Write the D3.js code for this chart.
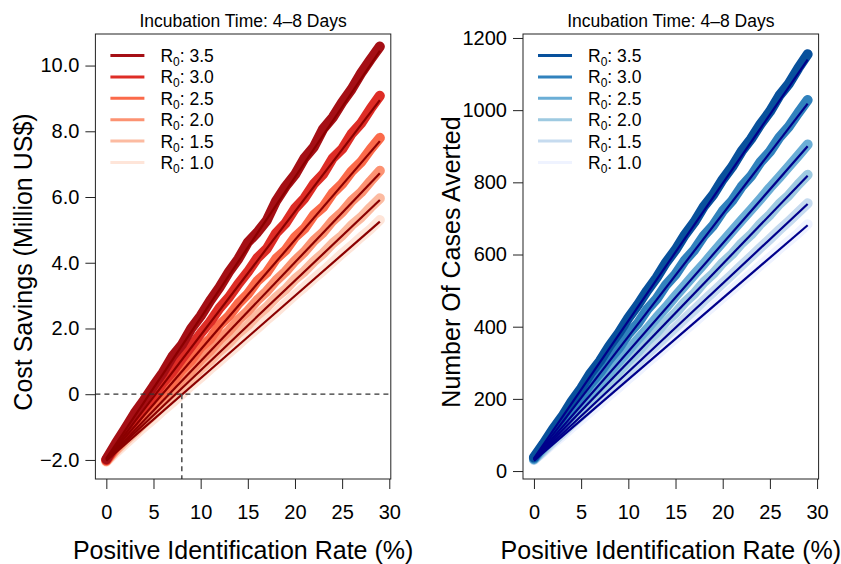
<!DOCTYPE html>
<html>
<head>
<meta charset="utf-8">
<script src="https://cdn.jsdelivr.net/npm/d3@7"></script>
<style>
  body { margin: 0; background: #fff; }
  svg text { font-family: "Liberation Sans", Arial, sans-serif; fill: #000; }
</style>
</head>
<body>
<svg id="chart" width="841" height="564"></svg>
<script>
// ---- data ----
const xRate   = d3.range(0, 30);           // 0 .. 29 %
const r0Labels = ["3.5", "3.0", "2.5", "2.0", "1.5", "1.0"];
const xTicks  = [0, 5, 10, 15, 20, 25, 30];

// cost savings (million US$), simulated curves
const costR35 = [-1.98,-1.50,-1.05,-0.58,-0.18,0.25,0.66,1.15,1.50,2.00,2.38,2.84,3.25,3.72,4.12,4.62,4.92,5.28,5.88,6.32,6.68,7.18,7.52,8.08,8.42,8.88,9.28,9.76,10.18,10.58];
const costR30 = [-2.00,-1.58,-1.18,-0.82,-0.42,-0.06,0.35,0.68,1.08,1.46,1.85,2.20,2.62,2.95,3.36,3.72,4.14,4.42,4.90,5.20,5.65,5.96,6.40,6.70,7.18,7.46,7.92,8.24,8.68,9.08];
const costR25 = [-2.02,-1.62,-1.28,-0.97,-0.60,-0.32,0.08,0.36,0.75,1.03,1.43,1.68,2.10,2.38,2.76,3.05,3.44,3.70,4.12,4.38,4.78,5.04,5.45,5.70,6.12,6.40,6.78,7.06,7.45,7.80];
const costR20 = [-2.03,-1.68,-1.36,-1.09,-0.76,-0.49,-0.16,0.12,0.45,0.72,1.05,1.32,1.66,1.93,2.26,2.53,2.86,3.13,3.46,3.73,4.06,4.33,4.67,4.93,5.28,5.54,5.88,6.14,6.48,6.80];
const costR15 = [-2.04,-1.72,-1.43,-1.17,-0.88,-0.63,-0.33,-0.08,0.22,0.46,0.77,1.01,1.31,1.56,1.86,2.10,2.40,2.65,2.95,3.19,3.50,3.74,4.04,4.29,4.59,4.83,5.14,5.38,5.68,5.96];
const costR10 = [-2.06,-1.78,-1.52,-1.26,-1.00,-0.76,-0.50,-0.26,0.00,0.26,0.50,0.76,1.00,1.26,1.50,1.76,2.00,2.26,2.50,2.76,3.02,3.26,3.52,3.76,4.02,4.28,4.52,4.78,5.02,5.30];
// fitted straight lines: value at 0 % and at 29 %
const costFitStart = [-1.95, -1.97, -1.98, -2.00, -2.00, -2.02];
const costFitEnd   = [10.45,  8.95,  7.70,  6.72,  5.91,  5.25];
const breakEven = 8;     // % where R0 = 1.0 crosses zero

// cases averted, simulated curves
const casesR35 = [38,75,115,151,193,229,271,305,347,383,424,460,500,536,578,613,655,690,733,766,808,843,886,920,961,996,1040,1073,1116,1155];
const casesR30 = [35,70,105,136,174,205,242,273,310,341,380,409,448,477,516,545,584,613,652,681,720,749,788,817,856,885,924,954,992,1028];
const casesR25 = [33,64,95,124,155,185,215,245,274,304,334,365,394,425,454,485,515,545,574,605,635,665,695,724,754,785,814,844,874,905];
const casesR20 = [32,59,87,113,142,168,196,222,250,276,305,330,360,384,414,438,468,492,523,547,577,601,631,655,685,710,740,764,794,821];
const casesR15 = [31,55,80,104,129,153,178,202,227,251,276,300,325,349,374,398,423,447,472,496,521,545,570,594,619,643,668,692,717,742];
const casesR10 = [30,52,75,97,120,142,165,187,210,232,255,277,300,322,345,367,390,412,435,457,480,502,525,547,570,592,615,637,659,684];
const casesFitStart = [35, 33, 32, 31, 30, 29];
const casesFitEnd   = [1140, 1018, 900, 818, 740, 681];

const costTicks  = [-2, 0, 2, 4, 6, 8, 10];
const costLabels = ["\u22122.0", "0", "2.0", "4.0", "6.0", "8.0", "10.0"];
const casesTicks = [0, 200, 400, 600, 800, 1000, 1200];

const reds  = ["#A50F15", "#DE2D26", "#FB6A4A", "#FC9272", "#FCBBA1", "#FEE5D9"];
const blues = ["#08519C", "#3182BD", "#6BAED6", "#9ECAE1", "#C6DBEF", "#EFF3FF"];

const svg = d3.select("#chart");

function panel(opt) {
  const x = d3.scaleLinear().domain([-1.16, 30.16]).range([opt.left, opt.right]);
  const y = d3.scaleLinear().domain(opt.yDomain).range([479, 34]);
  const g = svg.append("g");

  // thick simulated curves, low R0 first
  const line = d3.line().x((d, i) => x(xRate[i])).y(d => y(d));
  opt.series.slice().reverse().forEach((s, k) => {
    const i = opt.series.length - 1 - k;
    g.append("path").attr("d", line(s))
      .attr("fill", "none").attr("stroke", opt.colors[i])
      .attr("stroke-width", 10).attr("stroke-linejoin", "round").attr("stroke-linecap", "round");
  });
  // fitted lines
  opt.fitStart.forEach((v, i) => {
    g.append("line")
      .attr("x1", x(0)).attr("y1", y(v))
      .attr("x2", x(29)).attr("y2", y(opt.fitEnd[i]))
      .attr("stroke", opt.fitColor).attr("stroke-width", 2.2);
  });

  if (opt.dashed) opt.dashed(g, x, y);

  // box
  g.append("rect").attr("x", opt.left).attr("y", 34)
    .attr("width", opt.right - opt.left).attr("height", 445)
    .attr("fill", "none").attr("stroke", "#222").attr("stroke-width", 1);

  // axes
  const ax = g.append("g").attr("transform", "translate(0,479)")
    .call(d3.axisBottom(x).tickValues(xTicks).tickSize(10).tickPadding(16));
  const ay = g.append("g").attr("transform", `translate(${opt.left},0)`)
    .call(d3.axisLeft(y).tickValues(opt.yTicks).tickSize(10).tickPadding(6)
      .tickFormat((d, i) => opt.yLabels ? opt.yLabels[i] : d));
  [ax, ay].forEach(a => {
    a.select(".domain").remove();
    a.selectAll("line").attr("stroke", "#222");
    a.selectAll("text").style("font-size", "20px").attr("fill", "#000");
  });

  // titles
  const cx = (opt.left + opt.right) / 2;
  g.append("text").attr("x", cx).attr("y", 27).attr("text-anchor", "middle")
    .style("font-size", "17.5px").text("Incubation Time: 4\u20138 Days");
  g.append("text").attr("x", cx).attr("y", 559).attr("text-anchor", "middle")
    .style("font-size", "25px").text("Positive Identification Rate (%)");
  g.append("text").attr("transform", `translate(${opt.yTitleX},${opt.yTitleY}) rotate(-90)`)
    .attr("text-anchor", "middle").style("font-size", "25px").text(opt.yTitle);

  // legend
  const lg = g.append("g");
  r0Labels.forEach((lab, i) => {
    const ly = 55.5 + i * 21.4;
    lg.append("line").attr("x1", opt.left + 15).attr("x2", opt.left + 49)
      .attr("y1", ly).attr("y2", ly)
      .attr("stroke", opt.colors[i]).attr("stroke-width", 3);
    const t = lg.append("text").attr("x", opt.left + 65).attr("y", ly + 6.5)
      .style("font-size", "17.5px");
    t.append("tspan").text("R");
    t.append("tspan").attr("dy", 4).style("font-size", "12px").text("0");
    t.append("tspan").attr("dy", -4).text(": " + lab);
  });
}

panel({
  left: 95.4, right: 390.8, yDomain: [-2.58, 10.96],
  series: [costR35, costR30, costR25, costR20, costR15, costR10],
  fitStart: costFitStart, fitEnd: costFitEnd, fitColor: "#8B0000",
  colors: reds, yTicks: costTicks, yLabels: costLabels,
  yTitle: "Cost Savings (Million US$)", yTitleX: 32, yTitleY: 262,
  dashed: (g, x, y) => {
    g.append("line").attr("x1", x.range()[0]).attr("x2", x.range()[1])
      .attr("y1", y(0)).attr("y2", y(0))
      .attr("stroke", "#333").attr("stroke-width", 1.3).attr("stroke-dasharray", "5,4");
    g.append("line").attr("x1", x(breakEven)).attr("x2", x(breakEven))
      .attr("y1", y(0)).attr("y2", 479)
      .attr("stroke", "#555").attr("stroke-width", 1.6).attr("stroke-dasharray", "5,4");
  }
});

panel({
  left: 523, right: 818.6, yDomain: [-22, 1211],
  series: [casesR35, casesR30, casesR25, casesR20, casesR15, casesR10],
  fitStart: casesFitStart, fitEnd: casesFitEnd, fitColor: "#00008B",
  colors: blues, yTicks: casesTicks, yLabels: null,
  yTitle: "Number Of Cases Averted", yTitleX: 460, yTitleY: 262
});
</script>
</body>
</html>
